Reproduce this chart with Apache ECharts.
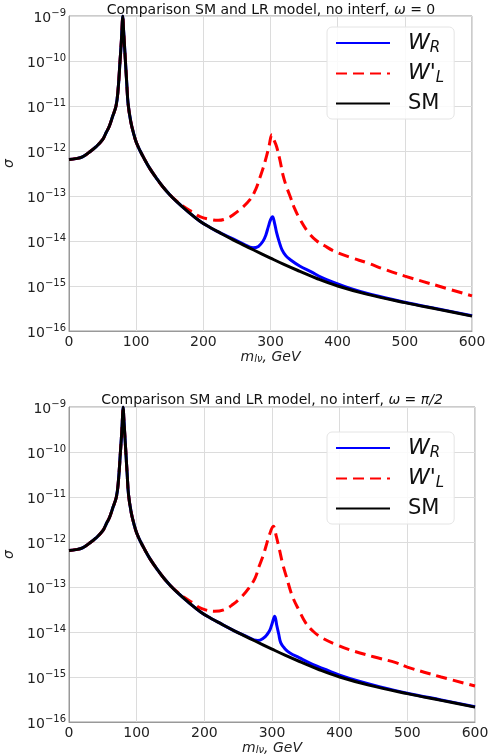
<!DOCTYPE html>
<html><head><meta charset="utf-8">
<script src="https://cdn.jsdelivr.net/npm/echarts@6/dist/echarts.min.js"></script>
<style>html,body{margin:0;padding:0;background:#fff}#c{width:489px;height:755px}</style>
</head><body><div id="c"></div>
<script>
// ---- data ----
const xTicks = [0, 100, 200, 300, 400, 500, 600];
const yTickExps = [-9, -10, -11, -12, -13, -14, -15, -16];

const smX = [0,10,20,30,40,50,55,60,65,70,73,76,78,79,80,81,82,84,86,88,92,96,100,106,112,120,130,140,150,160,175,195,210,225,245,260,275,300,320,343,370,400,443,500,550,600];
const smY = [6.46e-13,6.76e-13,7.41e-13,9.33e-13,1.23e-12,1.78e-12,2.51e-12,3.55e-12,5.89e-12,1.0e-11,2.24e-11,1.0e-10,2.82e-10,5.62e-10,1.0e-9,5.62e-10,3.16e-10,1.0e-10,3.16e-11,1.12e-11,4.47e-12,2.51e-12,1.58e-12,1.0e-12,6.76e-13,4.17e-13,2.51e-13,1.58e-13,1.07e-13,7.59e-14,4.79e-14,2.75e-14,2.0e-14,1.51e-14,1.05e-14,8.13e-15,6.31e-15,4.17e-15,3.02e-15,2.14e-15,1.45e-15,1.0e-15,6.61e-16,4.27e-16,3.02e-16,2.14e-16];

// W'_L, plot 1 (omega = 0)
const wlX1 = [0,10,20,30,40,50,55,60,65,70,73,76,78,79,80,81,82,84,86,88,92,96,100,106,112,120,130,140,150,160,170,185,195,210,222,235,245,257,270,278,284,289,294,298,302,305,309,314,319,324,329,336,344,356,369,380,394,420,443,470,500,550,600];
const wlY1 = [6.46e-13,6.76e-13,7.41e-13,9.33e-13,1.23e-12,1.78e-12,2.51e-12,3.55e-12,5.89e-12,1.0e-11,2.24e-11,1.0e-10,2.82e-10,5.62e-10,1.0e-9,5.62e-10,3.16e-10,1.0e-10,3.16e-11,1.12e-11,4.47e-12,2.51e-12,1.58e-12,1.0e-12,6.76e-13,4.17e-13,2.51e-13,1.58e-13,1.07e-13,7.76e-14,5.89e-14,4.27e-14,3.47e-14,3.02e-14,2.88e-14,3.16e-14,3.89e-14,5.37e-14,8.51e-14,1.41e-13,2.51e-13,4.17e-13,7.59e-13,1.32e-12,2.29e-12,1.78e-12,1.26e-12,6.31e-13,2.75e-13,1.58e-13,1.0e-13,5.25e-14,3.02e-14,1.58e-14,1.0e-14,7.94e-15,6.03e-15,4.27e-15,3.31e-15,2.34e-15,1.66e-15,1.0e-15,6.03e-16];

// W_R, plot 1 (omega = 0)
const wrX1 = [0,10,20,30,40,50,55,60,65,70,73,76,78,79,80,81,82,84,86,88,92,96,100,106,112,120,130,140,150,160,175,195,210,225,245,260,274,282,289,293,297,300,303,306,309,313,317,323,329,344,360,375,394,420,450,500,550,600];
const wrY1 = [6.46e-13,6.76e-13,7.41e-13,9.33e-13,1.23e-12,1.78e-12,2.51e-12,3.55e-12,5.89e-12,1.0e-11,2.24e-11,1.0e-10,2.82e-10,5.62e-10,1.0e-9,5.62e-10,3.16e-10,1.0e-10,3.16e-11,1.12e-11,4.47e-12,2.51e-12,1.58e-12,1.0e-12,6.76e-13,4.17e-13,2.51e-13,1.58e-13,1.07e-13,7.59e-14,4.79e-14,2.75e-14,2.0e-14,1.51e-14,1.10e-14,8.51e-15,7.08e-15,7.59e-15,1.0e-14,1.35e-14,2.14e-14,2.95e-14,3.47e-14,2.51e-14,1.55e-14,9.55e-15,6.46e-15,4.68e-15,3.89e-15,2.75e-15,2.09e-15,1.58e-15,1.20e-15,8.71e-16,6.46e-16,4.37e-16,3.09e-16,2.19e-16];

// W'_L, plot 2 (omega = pi/2)
const wlX2 = [0,10,20,30,40,50,55,60,65,70,73,76,78,79,80,81,82,84,86,88,92,96,100,106,112,120,130,140,150,160,170,185,193,215,230,242,255,266,275,281,287,291,296,302,306,311,316,321,330,340,350,362,375,395,414,450,483,500,550,600];
const wlY2 = [6.46e-13,6.76e-13,7.41e-13,9.33e-13,1.23e-12,1.78e-12,2.51e-12,3.55e-12,5.89e-12,1.0e-11,2.24e-11,1.0e-10,2.82e-10,5.62e-10,1.0e-9,5.62e-10,3.16e-10,1.0e-10,3.16e-11,1.12e-11,4.47e-12,2.51e-12,1.58e-12,1.0e-12,6.76e-13,4.17e-13,2.51e-13,1.58e-13,1.07e-13,7.76e-14,5.89e-14,4.27e-14,3.47e-14,2.88e-14,3.16e-14,4.07e-14,6.03e-14,9.55e-14,1.58e-13,2.88e-13,5.01e-13,7.94e-13,1.41e-12,2.24e-12,1.41e-12,6.76e-13,3.16e-13,1.74e-13,6.31e-14,3.02e-14,1.58e-14,1.0e-14,7.24e-15,5.25e-15,4.07e-15,2.82e-15,2.09e-15,1.66e-15,1.0e-15,6.31e-16];

// W_R, plot 2 (omega = pi/2)
const wrX2 = [0,10,20,30,40,50,55,60,65,70,73,76,78,79,80,81,82,84,86,88,92,96,100,106,112,120,130,140,150,160,175,195,210,225,245,260,279,288,293,297,300,304,307,310,313,319,326,340,360,380,400,430,460,500,550,600];
const wrY2 = [6.46e-13,6.76e-13,7.41e-13,9.33e-13,1.23e-12,1.78e-12,2.51e-12,3.55e-12,5.89e-12,1.0e-11,2.24e-11,1.0e-10,2.82e-10,5.62e-10,1.0e-9,5.62e-10,3.16e-10,1.0e-10,3.16e-11,1.12e-11,4.47e-12,2.51e-12,1.58e-12,1.0e-12,6.76e-13,4.17e-13,2.51e-13,1.58e-13,1.07e-13,7.59e-14,4.79e-14,2.75e-14,2.0e-14,1.51e-14,1.05e-14,8.32e-15,6.46e-15,7.41e-15,8.91e-15,1.12e-14,1.51e-14,2.24e-14,1.41e-14,8.91e-15,5.75e-15,4.27e-15,3.47e-15,2.69e-15,1.91e-15,1.45e-15,1.10e-15,7.94e-16,6.03e-16,4.37e-16,3.09e-16,2.19e-16];

const titles = ['Comparison SM and LR model, no interf, ', 'Comparison SM and LR model, no interf, '];
const titleMath = [['ω', ' = 0', ''], ['ω', ' = ', 'π/2']];
const seriesNames = ['WR', 'WL', 'SM'];

// ---- chart ----
const FONT = 'DejaVu Sans';
const zip = (xs, ys) => xs.map((x, i) => [x, ys[i]]);
const chart = echarts.init(document.getElementById('c'), null, {renderer: 'canvas'});

const grids = [
  {left: 69, top: 16, width: 403, height: 315},
  {left: 69, top: 407, width: 406, height: 315}
];

function xAxis(gi) {
  return {
    type: 'value', gridIndex: gi, min: 0, max: 600, interval: 100,
    axisLine: {show: true, lineStyle: {color: '#999', width: 1}},
    axisTick: {show: false},
    splitLine: {show: true, lineStyle: {color: '#dcdcdc', width: 1}},
    axisLabel: {fontFamily: FONT, fontSize: 14, color: '#222', margin: 4},
    name: '{i|m}{s|lν}{i|, GeV}', nameLocation: 'middle', nameGap: 17,
    nameTextStyle: {rich: {
      i: {fontFamily: FONT, fontStyle: 'italic', fontSize: 14, color: '#222'},
      s: {fontFamily: FONT, fontStyle: 'italic', fontSize: 10, color: '#222', padding: [6, 0, 0, 0]}
    }}
  };
}
function yAxis(gi) {
  return {
    type: 'log', logBase: 10, gridIndex: gi, min: 1e-16, max: 1e-9,
    axisLine: {show: true, lineStyle: {color: '#999', width: 1}},
    axisTick: {show: false},
    splitLine: {show: true, lineStyle: {color: '#dcdcdc', width: 1}},
    axisLabel: {
      margin: 3,
      formatter: v => '{b|10}{s|−' + Math.abs(Math.round(Math.log10(v))) + '}',
      rich: {
        b: {fontFamily: FONT, fontSize: 14, color: '#222', padding: [4, 0, 0, 0]},
        s: {fontFamily: FONT, fontSize: 10, color: '#222', padding: [0, 0, 6, 0]}
      }
    },
    name: 'σ', nameLocation: 'middle', nameGap: 53, nameRotate: 90,
    nameTextStyle: {fontFamily: FONT, fontStyle: 'italic', fontSize: 14, color: '#222', padding: [0, 0, 0, 20]}
  };
}

const legendRich = {
  w: {fontFamily: FONT, fontStyle: 'italic', fontSize: 22, color: '#111'},
  sub: {fontFamily: FONT, fontStyle: 'italic', fontSize: 15, color: '#111', padding: [10, 0, 0, 0]},
  n: {fontFamily: FONT, fontSize: 21, color: '#111'}
};
const legendLabels = {WR: '{w|W}{sub|R}', WL: "{w|W'}{sub|L}", SM: '{n|SM}'};
function legend(top) {
  return {
    orient: 'vertical', left: 327, top: top, data: seriesNames,
    itemWidth: 54, itemHeight: 18, itemGap: 7,
    padding: [5, 10, 5, 8],
    backgroundColor: 'rgba(255,255,255,0.85)', borderColor: '#e4e4e4', borderWidth: 1, borderRadius: 5,
    formatter: n => legendLabels[n],
    itemStyle: {opacity: 0},
    textStyle: {rich: legendRich, padding: [0, 0, 0, 13]},
    selectedMode: false
  };
}
function title(i, center, top) {
  const m = titleMath[i];
  return {
    text: '{n|' + titles[i] + '}{i|' + m[0] + '}{n|' + m[1] + '}{i|' + m[2] + '}',
    left: center, top: top, textAlign: 'center', padding: 0,
    textStyle: {fontWeight: 'normal', rich: {
      n: {fontFamily: FONT, fontSize: 14, fontWeight: 'normal', color: '#111'},
      i: {fontFamily: FONT, fontStyle: 'italic', fontWeight: 'normal', fontSize: 14, color: '#111'}
    }}
  };
}
function line(name, data, gi, color, dashed, z) {
  return {
    name: name, type: 'line', xAxisIndex: gi, yAxisIndex: gi, data: data,
    showSymbol: false, symbol: 'none', smooth: 0.4, clip: true, z: z,
    lineStyle: {color: color, width: 3, type: dashed ? [11, 6] : 'solid'},
    itemStyle: {color: color}, animation: false
  };
}

chart.setOption({
  animation: false,
  title: [title(0, 271, 3), title(1, 272, 393)],
  grid: grids.map(g => Object.assign({show: true, borderColor: '#999', borderWidth: 1, backgroundColor: 'transparent', containLabel: false, outerBoundsMode: 'none'}, g)),
  xAxis: [xAxis(0), xAxis(1)],
  yAxis: [yAxis(0), yAxis(1)],
  legend: [legend(27), legend(432)],
  series: [
    line('WR', zip(wrX1, wrY1), 0, '#0000ff', false, 2),
    line('WL', zip(wlX1, wlY1), 0, '#ff0000', true, 3),
    line('SM', zip(smX, smY), 0, '#000000', false, 4),
    line('WR', zip(wrX2, wrY2), 1, '#0000ff', false, 2),
    line('WL', zip(wlX2, wlY2), 1, '#ff0000', true, 3),
    line('SM', zip(smX, smY), 1, '#000000', false, 4)
  ]
});
</script></body></html>
